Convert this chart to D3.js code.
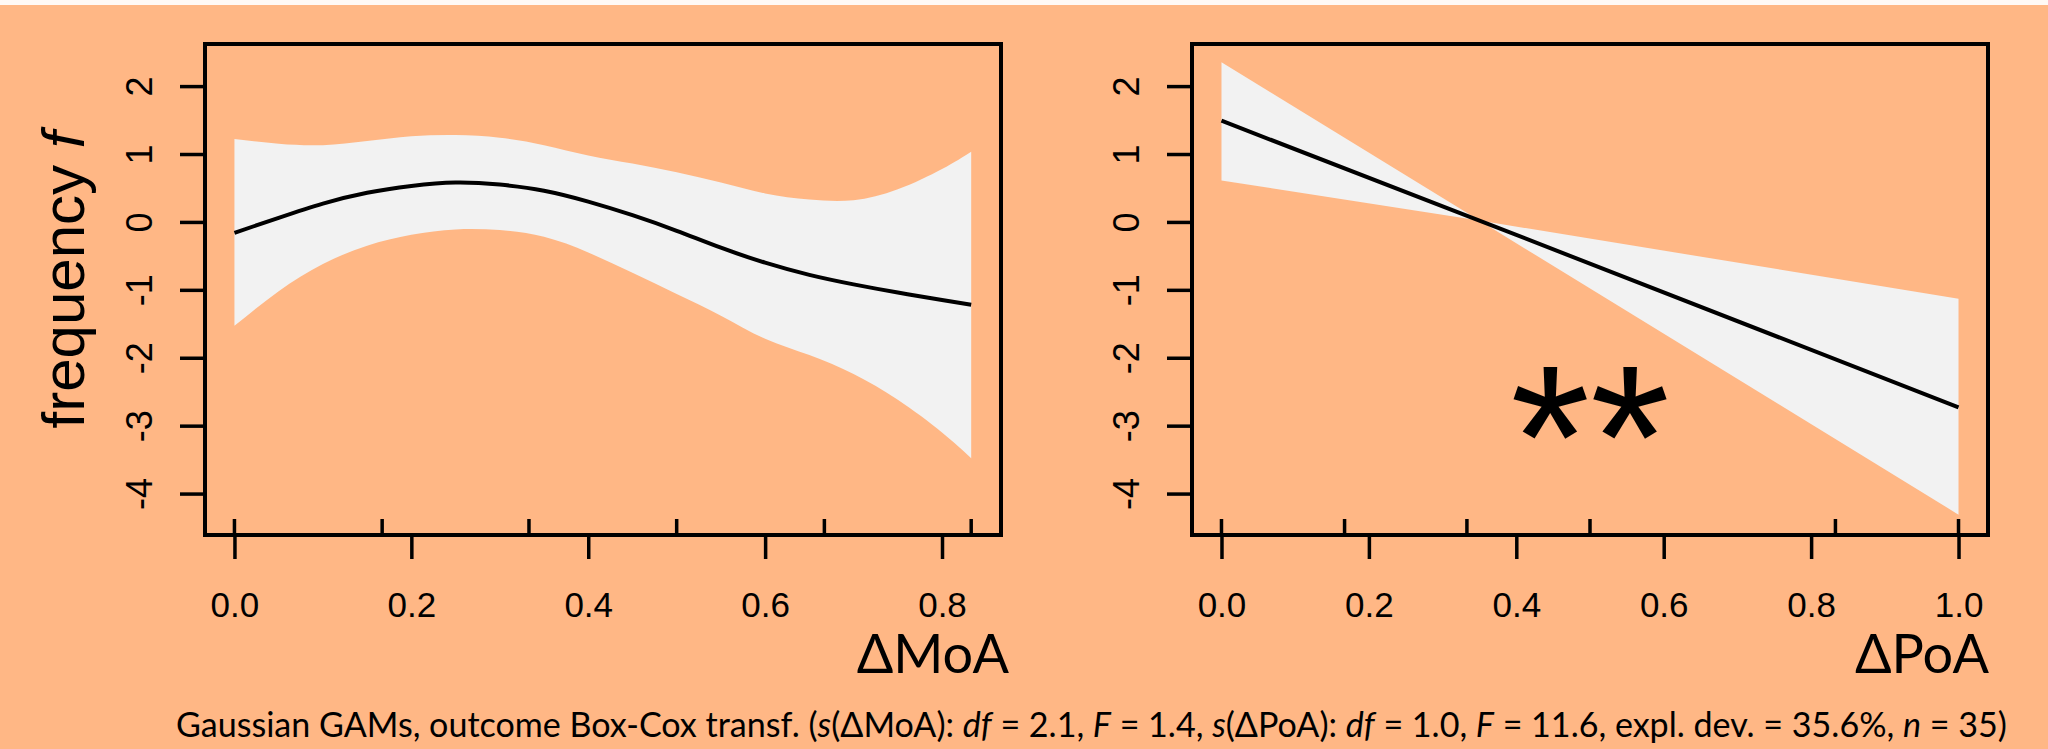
<!DOCTYPE html>
<html>
<head>
<meta charset="utf-8">
<script src="https://cdn.jsdelivr.net/npm/d3@7/dist/d3.min.js"></script>
<style>
  html, body { margin: 0; padding: 0; background: #fff; }
  svg { display: block; }
</style>
</head>
<body>
<div id="chart"></div>
<script>
// values
const yTicks = [-4, -3, -2, -1, 0, 1, 2];

const moaX     = [0, 0.05, 0.1, 0.15, 0.2, 0.25, 0.3, 0.35, 0.4, 0.45, 0.5, 0.55, 0.6, 0.65, 0.7, 0.75, 0.8, 0.833];
const moaFit   = [-0.16, 0.06, 0.27, 0.43, 0.53, 0.58, 0.55, 0.46, 0.30, 0.10, -0.13, -0.38, -0.60, -0.78, -0.92, -1.04, -1.15, -1.22];
const moaUpper = [1.22, 1.15, 1.13, 1.19, 1.26, 1.28, 1.24, 1.13, 0.98, 0.86, 0.73, 0.58, 0.42, 0.33, 0.32, 0.48, 0.78, 1.035];
const moaLower = [-1.53, -1.02, -0.62, -0.35, -0.19, -0.11, -0.12, -0.22, -0.45, -0.75, -1.06, -1.38, -1.72, -1.96, -2.24, -2.62, -3.10, -3.48];
const moaRug   = [0, 0.167, 0.333, 0.5, 0.667, 0.833];
const moaTicks = [0, 0.2, 0.4, 0.6, 0.8];

const poaX     = [0, 0.35, 1];
const poaFit   = [1.49, 0.02, -2.73];
const poaUpper = [2.35, 0.02, -1.13];
const poaLower = [0.61, 0.02, -4.31];
const poaRug   = [0, 0.167, 0.333, 0.5, 0.833, 1];
const poaTicks = [0, 0.2, 0.4, 0.6, 0.8, 1.0];

const width = 2048;
const height = 749;
const plotTop = 44;
const plotBottom = 535;
const bg = '#FFB785';
const band = '#F2F2F2';
const plotFont = '"Liberation Sans", Arial, sans-serif';
const slideFont = 'Lato, sans-serif';

const svg = d3
  .select('#chart')
  .append('svg')
  .attr('width', width)
  .attr('height', height);

svg.append('rect')
  .attr('x', 0).attr('y', 0)
  .attr('width', width).attr('height', height)
  .attr('fill', '#FFF9F5');

svg.append('rect')
  .attr('x', 0).attr('y', 5)
  .attr('width', width).attr('height', height - 5)
  .attr('fill', bg);

const y = d3.scaleLinear().domain([-4.61, 2.62]).range([plotBottom, plotTop]);

function drawPanel(p) {
  const x = d3.scaleLinear().domain(p.domain).range([p.left, p.right]);
  const g = svg.append('g');

  const pts = p.xs.map((v, i) => ({ x: v, fit: p.fit[i], up: p.upper[i], lo: p.lower[i] }));
  const curve = p.straight ? d3.curveLinear : d3.curveNatural;

  g.append('path')
    .datum(pts)
    .attr('fill', band)
    .attr('d', d3.area()
      .x(d => x(d.x))
      .y0(d => y(d.lo))
      .y1(d => y(d.up))
      .curve(curve));

  g.append('path')
    .datum(pts)
    .attr('fill', 'none')
    .attr('stroke', '#000')
    .attr('stroke-width', 4)
    .attr('d', d3.line()
      .x(d => x(d.x))
      .y(d => y(d.fit))
      .curve(curve));

  // rug
  g.selectAll('line.rug')
    .data(p.rug)
    .enter()
    .append('line')
    .attr('x1', d => x(d)).attr('x2', d => x(d))
    .attr('y1', plotBottom).attr('y2', plotBottom - 16)
    .attr('stroke', '#000')
    .attr('stroke-width', 3.5);

  // x axis
  const xAxis = g.append('g')
    .attr('transform', 'translate(0,' + plotBottom + ')')
    .call(d3.axisBottom(x).tickValues(p.ticks).tickFormat(d3.format('.1f')).tickSize(24).tickPadding(33));
  xAxis.select('.domain').remove();
  xAxis.selectAll('line').attr('stroke', '#000').attr('stroke-width', 3.5);
  xAxis.selectAll('text')
    .attr('fill', '#000')
    .style('font-family', plotFont)
    .style('font-size', '35px');

  // y axis, labels parallel to axis
  const yAxis = g.append('g')
    .attr('transform', 'translate(' + p.left + ',0)')
    .call(d3.axisLeft(y).tickValues(yTicks).tickSize(25).tickFormat(d => d < 0 ? '-' + Math.abs(d) : d));
  yAxis.select('.domain').remove();
  yAxis.selectAll('line').attr('stroke', '#000').attr('stroke-width', 3.5);
  yAxis.selectAll('text')
    .attr('x', null).attr('dy', null)
    .attr('text-anchor', 'middle')
    .attr('transform', 'translate(-53,0) rotate(-90)')
    .attr('fill', '#000')
    .style('font-family', plotFont)
    .style('font-size', '36px');

  g.append('rect')
    .attr('x', p.left).attr('y', plotTop)
    .attr('width', p.right - p.left).attr('height', plotBottom - plotTop)
    .attr('fill', 'none')
    .attr('stroke', '#000')
    .attr('stroke-width', 4);

  g.append('text')
    .text(p.title)
    .attr('x', p.titleX)
    .attr('y', 673)
    .attr('text-anchor', 'end')
    .style('font-family', slideFont)
    .style('font-size', '54px');

  return x;
}

drawPanel({
  left: 205, right: 1001, domain: [-0.0333, 0.8667],
  xs: moaX, fit: moaFit, upper: moaUpper, lower: moaLower,
  rug: moaRug, ticks: moaTicks, title: 'ΔMoA', titleX: 1009
});

const xPoa = drawPanel({
  left: 1192, right: 1988, domain: [-0.04, 1.04], straight: true,
  xs: poaX, fit: poaFit, upper: poaUpper, lower: poaLower,
  rug: poaRug, ticks: poaTicks, title: 'ΔPoA', titleX: 1989
});

svg.append('text')
  .text('**')
  .attr('x', xPoa(0.5))
  .attr('y', y(-2.68))
  .attr('dy', '0.51em')
  .attr('text-anchor', 'middle')
  .style('font-family', plotFont)
  .style('font-size', '205px');

// y label
const ylab = svg.append('text')
  .attr('transform', 'translate(84,280) rotate(-90)')
  .attr('text-anchor', 'middle')
  .style('font-family', plotFont)
  .style('font-size', '60px');
ylab.append('tspan').text('frequency ');
ylab.append('tspan').style('font-style', 'italic').text('f');

// footnote, sized to span the same width as the reference
const parts = [
  ['Gaussian GAMs, outcome Box-Cox transf. (', false], ['s', true], ['(ΔMoA): ', false],
  ['df', true], [' = 2.1, ', false], ['F', true], [' = 1.4, ', false],
  ['s', true], ['(ΔPoA): ', false], ['df', true], [' = 1.0, ', false],
  ['F', true], [' = 11.6, expl. dev. = 35.6%, ', false], ['n', true], [' = 35)', false]
];
const footWidth = 1831;
const foot = svg.append('text')
  .attr('x', 176)
  .attr('y', 737)
  .style('font-family', slideFont)
  .style('font-size', '40px');
foot.selectAll('tspan')
  .data(parts)
  .enter()
  .append('tspan')
  .style('font-style', d => d[1] ? 'italic' : 'normal')
  .text(d => d[0]);
const natural = foot.node().getComputedTextLength();
foot.style('font-size', (40 * footWidth / natural).toFixed(2) + 'px');
</script>
</body>
</html>
